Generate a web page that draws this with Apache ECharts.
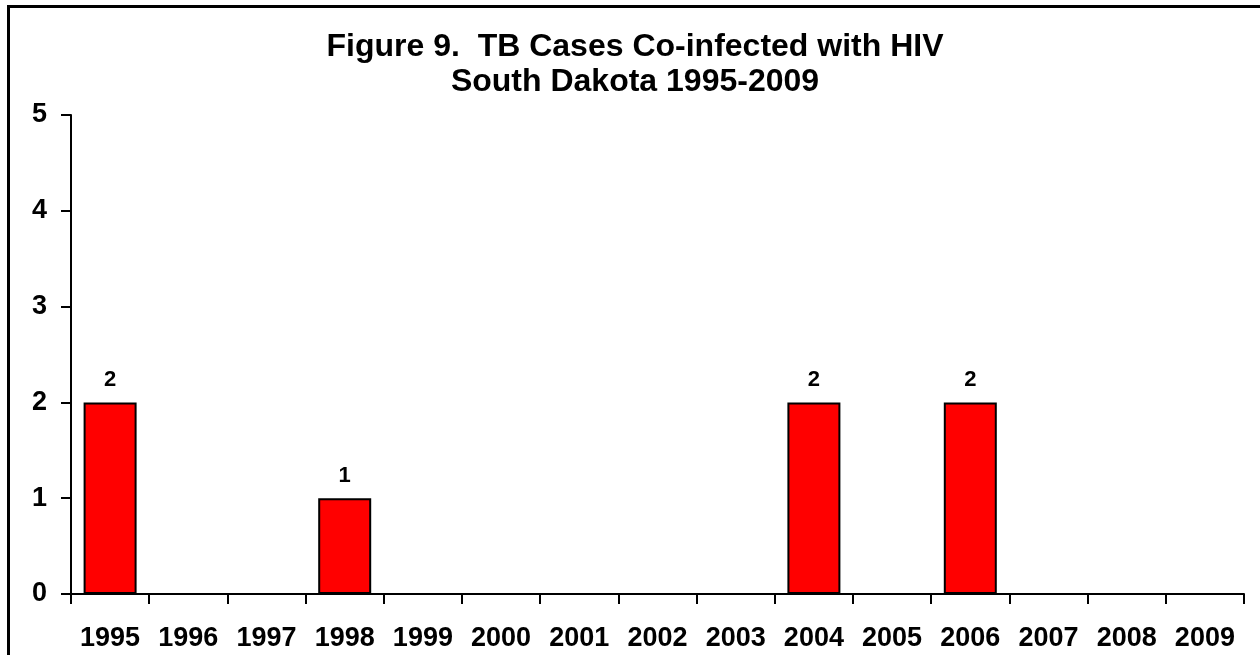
<!DOCTYPE html>
<html>
<head>
<meta charset="utf-8">
<script src="https://cdn.jsdelivr.net/npm/echarts@6/dist/echarts.min.js"></script>
<style>
  html, body { margin: 0; padding: 0; background: #fff; overflow: hidden; }
  #chart { width: 1260px; height: 655px; }
</style>
</head>
<body>
<div id="chart"></div>
<script>
const years = ['1995', '1996', '1997', '1998', '1999', '2000', '2001', '2002', '2003', '2004', '2005', '2006', '2007', '2008', '2009']
const coinfected = [2, 0, 0, 1, 0, 0, 0, 0, 0, 2, 0, 2, 0, 0, 0]
const yTicks = { min: 0, max: 5, interval: 1 }

const font = "'Liberation Sans', Arial, sans-serif"
const chart = echarts.init(document.getElementById('chart'), null, { renderer: 'canvas' })

chart.setOption({
  animation: false,
  backgroundColor: '#fff',
  // outer frame, cut off at the right and bottom like the source
  graphic: [{
    type: 'rect',
    silent: true,
    shape: { x: 8.5, y: 6.5, width: 1400, height: 800 },
    style: { fill: 'none', stroke: '#000', lineWidth: 3 },
  }],
  title: {
    text: 'Figure 9.  TB Cases Co-infected with HIV\nSouth Dakota 1995-2009',
    left: 635,
    textAlign: 'center',
    top: 30,
    padding: 0,
    textStyle: { fontFamily: font, fontWeight: 'bold', fontSize: 32, lineHeight: 35, color: '#000' },
  },
  grid: { left: 71, right: 16, top: 115, bottom: 61, containLabel: false },
  xAxis: {
    type: 'category',
    data: years,
    boundaryGap: true,
    axisLine: { lineStyle: { color: '#000', width: 2 } },
    axisTick: { show: true, inside: false, length: 10, alignWithLabel: false, lineStyle: { color: '#000', width: 2 } },
    axisLabel: { color: '#000', fontFamily: font, fontWeight: 'bold', fontSize: 27, margin: 31, interval: 0 },
    splitLine: { show: false },
  },
  yAxis: {
    type: 'value',
    min: yTicks.min,
    max: yTicks.max,
    interval: yTicks.interval,
    axisLine: { show: true, lineStyle: { color: '#000', width: 2 } },
    axisTick: { show: true, inside: false, length: 10, lineStyle: { color: '#000', width: 2 } },
    axisLabel: { color: '#000', fontFamily: font, fontWeight: 'bold', fontSize: 27, margin: 24 },
    splitLine: { show: false },
  },
  series: [{
    type: 'bar',
    data: coinfected,
    barWidth: 53,
    itemStyle: { color: '#ff0000', borderColor: '#000', borderWidth: 2 },
    label: {
      show: true,
      position: 'top',
      distance: 11,
      color: '#000',
      fontFamily: font,
      fontWeight: 'bold',
      fontSize: 22,
      formatter: p => (p.value > 0 ? p.value : ''),
    },
  }],
})
</script>
</body>
</html>
